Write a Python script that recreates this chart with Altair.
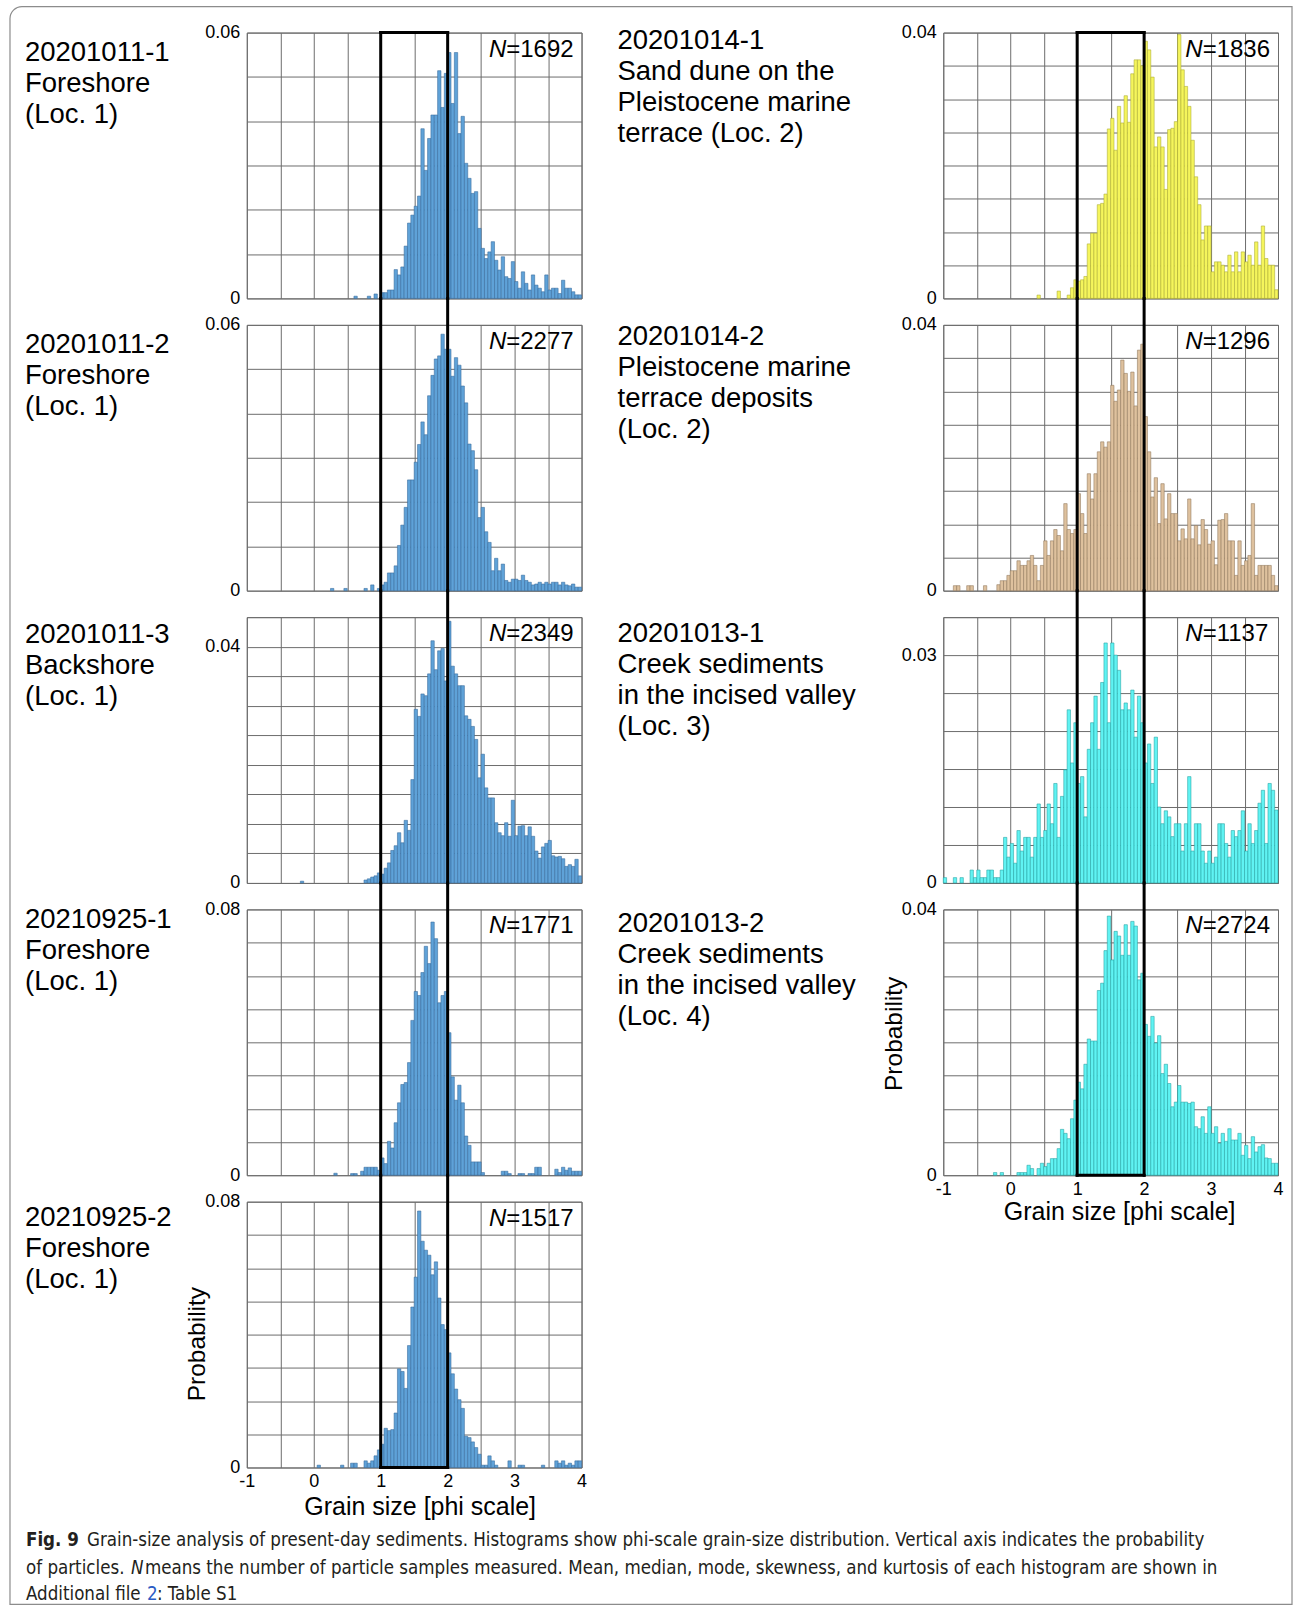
import altair as alt
import pandas as pd

FONT = "Liberation Sans"
CAP_FONT = "Liberation Sans Narrow, DejaVu Sans Condensed, Liberation Sans"

PHI_MIN = -1.0
BIN_WIDTH = 0.05
X_TICKS = [-1, -0.5, 0, 0.5, 1, 1.5, 2, 2.5, 3, 3.5, 4]

# ---------------- data: probability per 0.05-phi bin, first bin index given ----------------
L1_START = 32
L1_P = [.0005, 0, 0, 0, .0005, 0, .0010, 0,
        .0013, .0013, .0019, .0019, .0065, .0053, .0071, .0118, .0170, .0188,
        .0208, .0231, .0383, .0289, .0361, .0414, .0414, .0514, .0431, .0508,
        .0555, .0440, .0555, .0372, .0411, .0305, .0271, .0237, .0241, .0158,
        .0113, .0090, .0105, .0128, .0086, .0064, .0094, .0049, .0045, .0083,
        .0038, .0023, .0060, .0034, .0019, .0053, .0030, .0023, .0015, .0053,
        .0019, .0023, .0023, .0011, .0041, .0023, .0023, .0015, .0008, .0008]

L2_START = 25
L2_P = [.0005, 0, 0, 0, .0005, 0, 0, 0, 0, 0, .0005, 0, .0013, 0, .0005,
        .0013, .0019, .0040, .0040, .0056, .0102, .0148, .0188, .0250, .0250,
        .0290, .0330, .0381, .0352, .0440, .0486, .0523, .0530, .0579, .0545,
        .0545, .0484, .0526, .0509, .0462, .0424, .0331, .0316, .0273, .0165,
        .0188, .0133, .0109, .0045, .0073, .0045, .0060, .0023, .0019, .0026,
        .0026, .0023, .0035, .0023, .0019, .0013, .0015, .0019, .0015, .0019,
        .0015, .0019, .0019, .0013, .0019, .0013, .0011, .0015, .0008, .0008]

L3_START = 16
L3_P = [.0003, 0, 0, 0, 0, 0, 0, 0, 0, 0, 0, 0, 0, 0, 0, 0, 0, 0, 0,
        .0005, .0007, .0010, .0012, .0017,
        .0015, .0025, .0034, .0055, .0063, .0085, .0068, .0106, .0089, .0175,
        .0294, .0282, .0320, .0317, .0354, .0410, .0361, .0393, .0397, .0342,
        .0443, .0367, .0354, .0334, .0334, .0283, .0277, .0265, .0243, .0178,
        .0218, .0161, .0144, .0144, .0102, .0085, .0080, .0102, .0079, .0140,
        .0080, .0096, .0097, .0080, .0095, .0079, .0054, .0042, .0061, .0067,
        .0072, .0046, .0044, .0045, .0041, .0028, .0031, .0028, .0040, .0012]

L4_START = 26
L4_P = [.0006, 0, 0, 0, 0, .0005, .0005, 0, .0012, .0024, .0024, .0024, .0024, .0015,
        .0052, .0035, .0102, .0082, .0158, .0218, .0273, .0279, .0339, .0466,
        .0553, .0541, .0610, .0689, .0637, .0762, .0712, .0519, .0541, .0553,
        .0429, .0296, .0226, .0271, .0218, .0118, .0090, .0040, .0040, .0040,
        .0008, 0, 0, 0, 0, 0, .0012, .0012, .0005, 0, 0, .0005, .0005, 0,
        .0005, .0005, .0024, .0024, 0, 0, 0, 0, .0018, .0008, .0024, .0015,
        .0022, .0012, .0012, .0012]

L5_START = 21
L5_P = [.0007, 0, 0, 0, 0, 0, 0, .0007, 0, 0, .0013, .0013, 0, 0, .0020, .0013, .0020,
        .0035, .0053,
        .0070, .0118, .0111, .0114, .0164, .0297, .0289, .0238, .0367, .0483,
        .0573, .0772, .0681, .0654, .0639, .0580, .0619, .0510, .0430, .0415,
        .0345, .0282, .0236, .0204, .0178, .0094, .0090, .0077, .0060, .0040,
        .0007, .0007, .0035, .0020, .0007, 0, 0, 0, .0020, 0, 0, .0007, .0007,
        0, 0, 0, 0, 0, .0007, 0, 0, 0, .0020, .0013, .0020, .0007, .0013,
        .0007, .0020, .0020]

R1_START = 28
R1_P = [.0005, 0, 0, 0, 0, 0, .0011, 0, 0, .0005, .0016, .0028,
        .0026, .0028, .0033, .0082, .0098, .0098, .0141, .0143, .0157, .0255,
        .0271, .0223, .0289, .0264, .0305, .0265, .0338, .0359, .0359, .0350,
        .0387, .0374, .0333, .0228, .0243, .0228, .0164, .0254, .0256, .0266,
        .0397, .0344, .0319, .0289, .0238, .0183, .0141, .0088, .0109, .0109,
        .0040, .0055, .0055, .0050, .0040, .0065, .0040, .0070, .0040, .0070,
        .0055, .0065, .0050, .0085, .0050, .0109, .0060, .0050, .0050, .0013]

R2_START = 3
R2_P = [.00075, .00075, 0, 0, .00075, .00075, 0, 0, 0, .00075, 0, 0, 0,
        .0009, .0015, .0015, .0023, .0030, .0030, .0045, .0038, .0038, .0045,
        .0053, .0038, .0015, .0038, .0075, .0053, .0075, .0092, .0083, .0060,
        .0131, .0092, .0086, .0092,
        .0146, .0116, .0086, .0176, .0138, .0176, .0209, .0224, .0216, .0224,
        .0309, .0285, .0302, .0347, .0327, .0300, .0329, .0278, .0362, .0371,
        .0262, .0209, .0141, .0170, .0101, .0161, .0108, .0146, .0116, .0116,
        .0075, .0093, .0078, .0138, .0078, .0098, .0069, .0107, .0092, .0070,
        .0075, .0039, .0106, .0107, .0116, .0075, .0075, .0023, .0075, .0038,
        .0045, .0053, .0131, .0023, .0038, .0038, .0038, .0038, .0023, .00075]

R3_START = 0
R3_P = [.0007, 0, 0, .0007, 0, .0007, 0, 0, .0017, .0007, .0017, .0007, .0007,
        .0017, .0017, .0007, .0007, .0017, .0060, .0034, .0052, .0026, .0069,
        .0042, .0060, .0060, .0034, .0060, .0104, .0060, .0069, .0104, .0078,
        .0131, .0060, .0114, .0149, .0228, .0158, .0211,
        .0131, .0140, .0087, .0176, .0211, .0246, .0176, .0264, .0316, .0211,
        .0316, .0300, .0280, .0228, .0237, .0228, .0254, .0192, .0246, .0211,
        .0158, .0183, .0131, .0192, .0100, .0078, .0095, .0087, .0061, .0078,
        .0078, .0042, .0078, .0140, .0042, .0078, .0078, .0042, .0026, .0042,
        .0026, .0034, .0078, .0078, .0052, .0034, .0069, .0061, .0069, .0095,
        .0042, .0078, .0052, .0069, .0105, .0122, .0052, .0131, .0122, .0096]

R4_START = 15
R4_P = [.0004, 0, .0004, 0, 0, 0, 0, .0004, .0004, .0004, .0015, .0010, 0, .0010,
        .0018, .0013, .0018, .0025, .0025, .0040, .0069, .0063, .0055, .0085, .0113,
        .0140, .0130, .0167, .0205, .0202, .0202, .0278, .0289, .0338, .0390,
        .0324, .0367, .0360, .0331, .0377, .0331, .0382, .0375, .0294, .0304,
        .0227, .0209, .0239, .0199, .0210, .0153, .0167, .0138, .0103, .0110,
        .0135, .0110, .0110, .0108, .0110, .0073, .0070, .0088, .0063, .0103,
        .0063, .0073, .0048, .0063, .0051, .0070, .0053, .0053, .0063, .0030,
        .0045, .0025, .0058, .0035, .0043, .0046, .0026, .0025, .0018, .0018]

# ---------------- style ----------------
W, H = 335, 266
ROW_GAP = 26.5
COL_GAP = 362
GRID = "#6c6c6c"
BLUE, BLUE_EDGE = "#5fa2d8", "#35699a"
YELLOW, YELLOW_EDGE = "#f5f55c", "#a8a832"
TAN, TAN_EDGE = "#dec19e", "#907559"
CYAN, CYAN_EDGE = "#60f3f3", "#23a0a0"

PANELS = [
    dict(start=L1_START, vals=L1_P, top=0.06, step=0.01, ylab=0.06, n=1692, fill=BLUE, edge=BLUE_EDGE,
         label="20201011-1\nForeshore\n(Loc. 1)", lx=-222, ly=28, first=True, last=False, ytitle=False),
    dict(start=R1_START, vals=R1_P, top=0.04, step=0.005, ylab=0.04, n=1836, fill=YELLOW, edge=YELLOW_EDGE,
         label="20201014-1\nSand dune on the\nPleistocene marine\nterrace (Loc. 2)", lx=-326, ly=16,
         first=True, last=False, ytitle=False),
    dict(start=L2_START, vals=L2_P, top=0.06, step=0.01, ylab=0.06, n=2277, fill=BLUE, edge=BLUE_EDGE,
         label="20201011-2\nForeshore\n(Loc. 1)", lx=-222, ly=28, first=False, last=False, ytitle=False),
    dict(start=R2_START, vals=R2_P, top=0.04, step=0.005, ylab=0.04, n=1296, fill=TAN, edge=TAN_EDGE,
         label="20201014-2\nPleistocene marine\nterrace deposits\n(Loc. 2)", lx=-326, ly=20,
         first=False, last=False, ytitle=False),
    dict(start=L3_START, vals=L3_P, top=0.045, step=0.005, ylab=0.04, n=2349, fill=BLUE, edge=BLUE_EDGE,
         label="20201011-3\nBackshore\n(Loc. 1)", lx=-222, ly=26, first=False, last=False, ytitle=False),
    dict(start=R3_START, vals=R3_P, top=0.035, step=0.005, ylab=0.03, n=1137, fill=CYAN, edge=CYAN_EDGE,
         label="20201013-1\nCreek sediments\nin the incised valley\n(Loc. 3)", lx=-326, ly=25,
         first=False, last=False, ytitle=False),
    dict(start=L4_START, vals=L4_P, top=0.08, step=0.01, ylab=0.08, n=1771, fill=BLUE, edge=BLUE_EDGE,
         label="20210925-1\nForeshore\n(Loc. 1)", lx=-222, ly=19, first=False, last=False, ytitle=False),
    dict(start=R4_START, vals=R4_P, top=0.04, step=0.005, ylab=0.04, n=2724, fill=CYAN, edge=CYAN_EDGE,
         label="20201013-2\nCreek sediments\nin the incised valley\n(Loc. 4)", lx=-326, ly=23,
         first=False, last=True, ytitle=True, title_x=176, title_y=44, ytitle_y=124),
    dict(start=L5_START, vals=L5_P, top=0.08, step=0.01, ylab=0.08, n=1517, fill=BLUE, edge=BLUE_EDGE,
         label="20210925-2\nForeshore\n(Loc. 1)", lx=-222, ly=24, first=False, last=True, ytitle=True,
         title_x=173, title_y=47, ytitle_y=142),
]

CAPTION = [
    # text, x, y, weight, style, color  (relative to first panel's plot origin)
    ("Fig. 9", -221, 1515, "bold", "normal", "#231f20"),
    ("Grain-size analysis of present-day sediments. Histograms show phi-scale grain-size distribution. "
     "Vertical axis indicates the probability", -160, 1515, "normal", "normal", "#231f20"),
    ("of particles.", -221, 1543, "normal", "normal", "#231f20"),
    ("N", -116, 1543, "normal", "italic", "#231f20"),
    ("means the number of particle samples measured. Mean, median, mode, skewness, and kurtosis of each "
     "histogram are shown in", -102, 1543, "normal", "normal", "#231f20"),
    ("Additional file", -221, 1569, "normal", "normal", "#231f20"),
    ("2", -100, 1569, "normal", "normal", "#2b5cc4"),
    (": Table S1", -90, 1569, "normal", "normal", "#231f20"),
]

XS = alt.Scale(domain=[-1, 4], nice=False, zero=False)


def make_panel(p):
    rows = []
    for i, v in enumerate(p["vals"]):
        if v > 0:
            k = p["start"] + i
            rows.append({"x0": PHI_MIN + k * BIN_WIDTH, "x1": PHI_MIN + (k + 1) * BIN_WIDTH,
                         "p": v, "base": 0.0})
    df = pd.DataFrame(rows)
    nsteps = int(round(p["top"] / p["step"]))
    yvals = [round(p["step"] * i, 4) for i in range(nsteps + 1)]
    ys = alt.Scale(domain=[0, p["top"]], nice=False, zero=True)

    yaxis_kw = dict(values=yvals, grid=True, ticks=False, domain=False, format="~g",
                    labelExpr=f"abs(datum.value) < 1e-9 || abs(datum.value - {p['ylab']}) < 1e-9 ? datum.label : ''",
                    labelFontSize=18, labelPadding=7, labelFont=FONT, labelColor="black")
    if p["ytitle"]:
        yaxis_kw.update(title="Probability", titleFontSize=24.5, titleFont=FONT, titleFontWeight="normal",
                        titleAngle=270, titleX=-42, titleY=p["ytitle_y"], titleAlign="center",
                        titleBaseline="alphabetic", titleColor="black")
    else:
        yaxis_kw.update(title=None)

    xaxis_kw = dict(values=X_TICKS, grid=True, ticks=False, domain=False)
    if p["last"]:
        xaxis_kw.update(labels=True, labelExpr="datum.value % 1 === 0 ? toString(datum.value) : ''",
                        labelFlush=False, labelFontSize=18, labelPadding=5, labelFont=FONT,
                        labelColor="black", title="Grain size [phi scale]", titleFontSize=25,
                        titleFont=FONT, titleFontWeight="normal", titleX=p["title_x"], titleY=p["title_y"],
                        titleBaseline="alphabetic", titleColor="black")
    else:
        xaxis_kw.update(labels=False, title=None)
    XAX = alt.Axis(**xaxis_kw)
    YAX = alt.Axis(**yaxis_kw)

    bars = alt.Chart(df).mark_bar(color=p["fill"], stroke=p["edge"], strokeWidth=0.55).encode(
        x=alt.X("x0:Q", scale=XS, axis=XAX),
        x2="x1:Q",
        y=alt.Y("p:Q", scale=ys, axis=YAX),
        y2="base:Q",
    )

    layers = []
    if p is PANELS[0]:
        border = alt.Chart(pd.DataFrame({"z": [0]})).mark_rect(
            fill="white", fillOpacity=0, stroke="#8c8c8c", strokeWidth=1.2, cornerRadiusTopLeft=12
        ).encode(x=alt.value(-237), x2=alt.value(1046), y=alt.value(-26), y2=alt.value(1573))
        layers.append(border)
    layers.append(bars)

    # bold guide box between phi 1 and 2
    y_top = 0 if p["first"] else -ROW_GAP
    vlines = alt.Chart(pd.DataFrame({"b": [1.0, 2.0]})).mark_rule(
        color="black", strokeWidth=3, strokeCap="square"
    ).encode(x=alt.X("b:Q", scale=XS, axis=XAX), y=alt.value(y_top), y2=alt.value(H))
    layers.append(vlines)
    if p["first"] or p["last"]:
        yy = 0 if p["first"] else H
        hline = alt.Chart(pd.DataFrame({"a": [1.0], "b": [2.0]})).mark_rule(
            color="black", strokeWidth=3, strokeCap="square"
        ).encode(x=alt.X("a:Q", scale=XS, axis=XAX), x2="b:Q", y=alt.value(yy))
        layers.append(hline)

    # N = ...
    anchor = W - 8 - 24 * (0.584 + 4 * 0.556)
    n_it = alt.Chart(pd.DataFrame({"t": ["N"]})).mark_text(
        font=FONT, fontSize=24, fontStyle="italic", align="right", baseline="alphabetic", color="black"
    ).encode(x=alt.value(anchor), y=alt.value(24), text="t:N")
    n_rest = alt.Chart(pd.DataFrame({"t": [f"={p['n']}"]})).mark_text(
        font=FONT, fontSize=24, align="left", baseline="alphabetic", color="black"
    ).encode(x=alt.value(anchor), y=alt.value(24), text="t:N")
    layers += [n_it, n_rest]

    lab = alt.Chart(pd.DataFrame({"t": [p["label"]]})).mark_text(
        font=FONT, fontSize=27.5, align="left", baseline="alphabetic", lineBreak="\n", lineHeight=31,
        color="black"
    ).encode(x=alt.value(p["lx"]), y=alt.value(p["ly"]), text="t:N")
    layers.append(lab)

    if p is PANELS[0]:
        for txt, cx, cy, wt, st, col in CAPTION:
            layers.append(
                alt.Chart(pd.DataFrame({"t": [txt]})).mark_text(
                    font=CAP_FONT, fontSize=18.6, fontWeight=wt, fontStyle=st, align="left",
                    baseline="alphabetic", color=col
                ).encode(x=alt.value(cx), y=alt.value(cy), text="t:N")
            )

    return alt.layer(*layers).properties(width=W, height=H)


panels = [make_panel(p) for p in PANELS]

chart = alt.concat(
    *panels, columns=2, spacing={"row": ROW_GAP, "column": COL_GAP}, bounds="flush"
).properties(
    padding={"left": 8, "top": 4, "right": 1, "bottom": 3},
    autosize=alt.AutoSizeParams(type="pad"),
    background="white",
).configure_view(
    stroke=GRID, strokeWidth=1
).configure_axis(
    gridColor=GRID, gridWidth=1, gridOpacity=1
)

chart.save("out.html", embed_options={"renderer": "svg", "actions": False})
